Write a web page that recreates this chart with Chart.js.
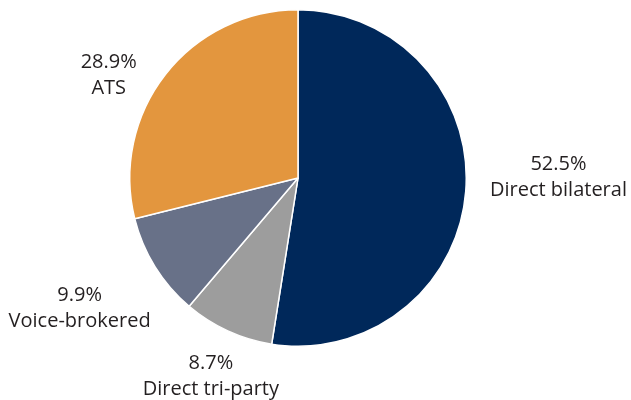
<!DOCTYPE html>
<html>
<head>
<meta charset="utf-8">
<script src="https://cdn.jsdelivr.net/npm/chart.js@4"></script>
<style>
html,body{margin:0;padding:0;background:#fff;}
#wrap{width:631px;height:400px;position:relative;}
</style>
</head>
<body>
<div id="wrap"><canvas id="c" width="631" height="400"></canvas></div>
<script>
const categories = ["Direct bilateral", "Direct tri-party", "Voice-brokered", "ATS"];
const shares = [52.5, 8.7, 9.9, 28.9];
const sliceColors = ["#00285A", "#9D9D9D", "#687188", "#E3963E"];
// label centre offsets from pie centre, in units of the pie radius
const labelOffsetX = [1.548, -0.518, -1.298, -1.125];
const labelOffsetY = [-0.006, 1.179, 0.774, -0.613];

const outsideLabels = {
  id: 'outsideLabels',
  afterDatasetsDraw(chart) {
    const ctx = chart.ctx;
    const meta = chart.getDatasetMeta(0);
    ctx.save();
    ctx.font = '20px "Open Sans"';
    ctx.fillStyle = '#231F20';
    ctx.textAlign = 'center';
    ctx.textBaseline = 'middle';
    meta.data.forEach((arc, i) => {
      const r = arc.outerRadius;
      const cx = arc.x + labelOffsetX[i] * r;
      const cy = arc.y + labelOffsetY[i] * r;
      ctx.fillText(shares[i].toFixed(1) + '%', cx, cy - 13);
      ctx.fillText(categories[i], cx, cy + 13);
    });
    ctx.restore();
  }
};

new Chart(document.getElementById('c'), {
  type: 'pie',
  data: {
    labels: categories,
    datasets: [{
      data: shares,
      backgroundColor: sliceColors,
      borderColor: '#ffffff',
      borderWidth: 1.5
    }]
  },
  options: {
    responsive: false,
    animation: false,
    layout: { padding: { left: 100, right: 135, top: 9, bottom: 53 } },
    plugins: { legend: { display: false }, tooltip: { enabled: false } }
  },
  plugins: [outsideLabels]
});
</script>
</body>
</html>
